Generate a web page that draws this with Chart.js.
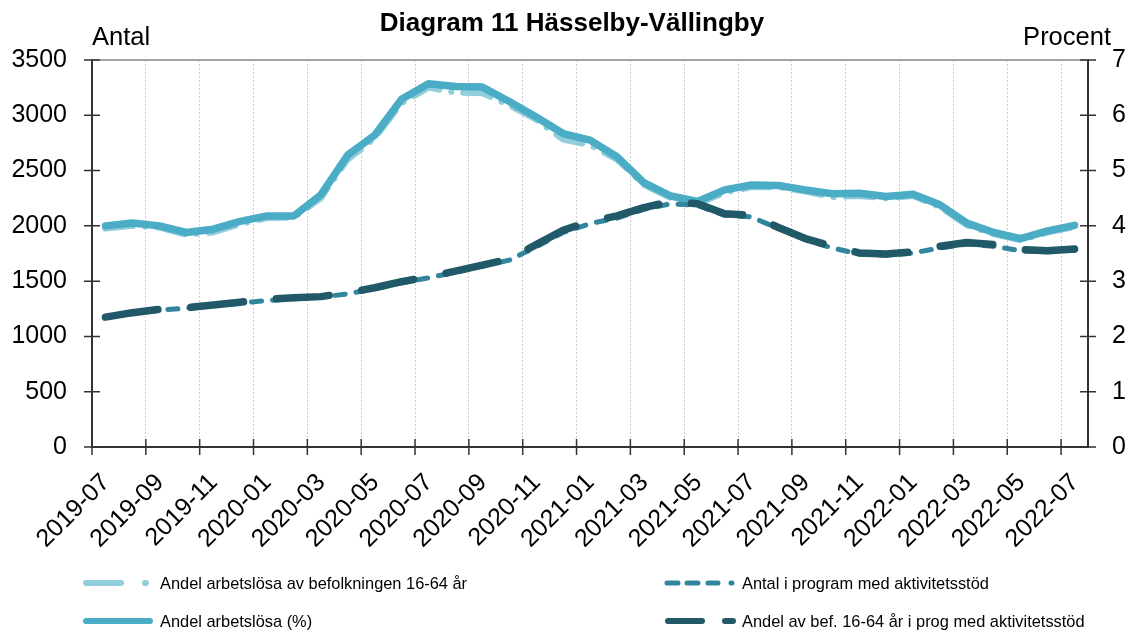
<!DOCTYPE html>
<html>
<head>
<meta charset="utf-8">
<script src="https://cdn.jsdelivr.net/npm/chart.js@4/dist/chart.umd.min.js"></script>
<style>
  html, body { margin: 0; padding: 0; background: #fff; }
</style>
</head>
<body>
<canvas id="myChart" width="1131" height="634"></canvas>
<script>
// Months (category per month, labels on the boundary ticks every second month)
var months = [
  "2019-07", "2019-08", "2019-09", "2019-10", "2019-11", "2019-12",
  "2020-01", "2020-02", "2020-03", "2020-04", "2020-05", "2020-06",
  "2020-07", "2020-08", "2020-09", "2020-10", "2020-11", "2020-12",
  "2021-01", "2021-02", "2021-03", "2021-04", "2021-05", "2021-06",
  "2021-07", "2021-08", "2021-09", "2021-10", "2021-11", "2021-12",
  "2022-01", "2022-02", "2022-03", "2022-04", "2022-05", "2022-06",
  "2022-07"
];

// Procent (right axis)
var andelBefolkning = [
  3.95, 4.00, 3.97, 3.84, 3.88, 4.03, 4.14, 4.15, 4.50, 5.20, 5.58, 6.22,
  6.50, 6.41, 6.40, 6.18, 5.92, 5.56, 5.46, 5.20, 4.74, 4.50, 4.40, 4.60,
  4.70, 4.70, 4.62, 4.52, 4.54, 4.50, 4.54, 4.34, 4.01, 3.85, 3.74, 3.88,
  3.98
];
var andelArbetslosa = [
  4.00, 4.05, 4.00, 3.88, 3.94, 4.08, 4.18, 4.18, 4.56, 5.28, 5.64, 6.29,
  6.57, 6.52, 6.51, 6.25, 5.97, 5.67, 5.55, 5.25, 4.78, 4.54, 4.44, 4.65,
  4.74, 4.73, 4.65, 4.58, 4.59, 4.53, 4.57, 4.38, 4.05, 3.88, 3.77, 3.91,
  4.01
];
var andelProgram = [
  2.35, 2.43, 2.49, 2.52, 2.57, 2.62, 2.67, 2.70, 2.72, 2.79, 2.88, 2.99,
  3.08, 3.18, 3.29, 3.40, 3.66, 3.92, 4.08, 4.18, 4.33, 4.44, 4.40, 4.22,
  4.19, 3.97, 3.77, 3.63, 3.51, 3.49, 3.53, 3.63, 3.70, 3.66, 3.57, 3.55,
  3.58
];
// Antal (left axis)
var antalProgram = [
  1170, 1205, 1238, 1255, 1280, 1300, 1325, 1340, 1355, 1385, 1430, 1485,
  1530, 1580, 1635, 1690, 1810, 1940, 2020, 2070, 2150, 2200, 2185, 2095,
  2080, 1975, 1875, 1800, 1745, 1735, 1755, 1800, 1835, 1815, 1775, 1765,
  1780
];

var leftTicks = [0, 500, 1000, 1500, 2000, 2500, 3000, 3500];
var rightTicks = [0, 1, 2, 3, 4, 5, 6, 7];

var colLight = "#92CDDC";
var colMain = "#4BACC6";
var colTeal = "#31859C";
var colDark = "#215968";

var FONT = "'Liberation Sans', Arial, sans-serif";
Chart.defaults.font.family = FONT;
Chart.defaults.color = "#000";

function points(arr) {
  // each month is drawn in the middle of its category slot
  return arr.map(function (v, i) { return { x: i + 0.5, y: v }; });
}

// legend entries
var legendItems = [
  { text: "Andel arbetslösa av befolkningen 16-64 år", color: colLight, width: 6,
    segs: [[86, 121], [145, 146]], x0: 160, y: 583 },
  { text: "Andel arbetslösa (%)", color: colMain, width: 6,
    segs: [[86, 150]], x0: 160, y: 621 },
  { text: "Antal i program med aktivitetsstöd", color: colTeal, width: 5,
    segs: [[667, 678], [687, 698], [708, 718], [731, 732]], x0: 742, y: 583 },
  { text: "Andel av bef. 16-64 år i prog med aktivitetsstöd", color: colDark, width: 6,
    segs: [[668, 702], [725, 733]], x0: 742, y: 621 }
];

var decorPlugin = {
  id: "decor",
  afterDraw: function (chart) {
    var ctx = chart.ctx;
    var a = chart.chartArea;
    var sx = chart.scales.x, sy = chart.scales.y, sy1 = chart.scales.y1;
    ctx.save();

    // top frame line
    ctx.strokeStyle = "#a6a6a6";
    ctx.lineWidth = 2;
    ctx.beginPath();
    ctx.moveTo(a.left, a.top);
    ctx.lineTo(a.right, a.top);
    ctx.stroke();

    // cross tick marks
    ctx.strokeStyle = "#333";
    ctx.lineWidth = 1.5;
    ctx.beginPath();
    leftTicks.forEach(function (v) {
      var y = sy.getPixelForValue(v);
      ctx.moveTo(a.left - 8, y); ctx.lineTo(a.left + 8, y);
    });
    rightTicks.forEach(function (v) {
      var y = sy1.getPixelForValue(v);
      ctx.moveTo(a.right - 8, y); ctx.lineTo(a.right + 8, y);
    });
    sx.ticks.forEach(function (t) {
      var x = sx.getPixelForValue(t.value);
      ctx.moveTo(x, a.bottom - 8); ctx.lineTo(x, a.bottom + 8);
    });
    ctx.stroke();

    // title + axis titles
    ctx.fillStyle = "#000";
    ctx.textBaseline = "alphabetic";
    ctx.font = "bold 26px " + FONT;
    ctx.textAlign = "center";
    ctx.fillText("Diagram 11 Hässelby-Vällingby", 572, 31);
    ctx.font = "25.5px " + FONT;
    ctx.textAlign = "left";
    ctx.fillText("Antal", 92, 45);
    ctx.textAlign = "right";
    ctx.fillText("Procent", 1111, 45);

    // legend
    ctx.lineCap = "round";
    ctx.font = "16.4px " + FONT;
    ctx.textAlign = "left";
    ctx.textBaseline = "middle";
    legendItems.forEach(function (it) {
      ctx.strokeStyle = it.color;
      ctx.lineWidth = it.width;
      ctx.beginPath();
      it.segs.forEach(function (s) {
        ctx.moveTo(s[0], it.y); ctx.lineTo(s[1], it.y);
      });
      ctx.stroke();
      ctx.fillStyle = "#000";
      ctx.fillText(it.text, it.x0, it.y + 1);
    });
    ctx.restore();
  }
};

var ctx = document.getElementById("myChart").getContext("2d");
var myChart = new Chart(ctx, {
  type: "line",
  data: {
    // first dataset is painted last (on top)
    datasets: [
      {
        label: "Andel av bef. 16-64 år i prog med aktivitetsstöd",
        data: points(andelProgram),
        yAxisID: "y1",
        borderColor: colDark,
        borderWidth: 7.5,
        borderDash: [53, 33],
        borderCapStyle: "round",
        borderJoinStyle: "round",
        pointRadius: 0,
      },
      {
        label: "Antal i program med aktivitetsstöd",
        data: points(antalProgram),
        yAxisID: "y",
        borderColor: colTeal,
        borderWidth: 5,
        borderDash: [10, 11],
        borderCapStyle: "round",
        borderJoinStyle: "round",
        pointRadius: 0,
      },
      {
        label: "Andel arbetslösa (%)",
        data: points(andelArbetslosa),
        yAxisID: "y1",
        borderColor: colMain,
        borderWidth: 7.5,
        borderCapStyle: "round",
        borderJoinStyle: "round",
        pointRadius: 0,
      },
      {
        label: "Andel arbetslösa av befolkningen 16-64 år",
        data: points(andelBefolkning),
        yAxisID: "y1",
        borderColor: colLight,
        borderWidth: 6,
        borderDash: [28, 12, 0.1, 12],
        borderCapStyle: "round",
        borderJoinStyle: "round",
        pointRadius: 0,
      },
    ],
  },
  options: {
    responsive: false,
    animation: false,
    events: [],
    layout: { autoPadding: false, padding: { top: 60, left: 0, right: 0, bottom: 0 } },
    plugins: {
      legend: { display: false },
      title: { display: false },
      tooltip: { enabled: false },
    },
    scales: {
      x: {
        type: "linear",
        min: 0,
        max: months.length,
        afterBuildTicks: function (scale) {
          scale.ticks = months
            .map(function (m, i) { return { value: i }; })
            .filter(function (t) { return t.value % 2 === 0; });
        },
        afterFit: function (scale) { scale.height = 187; },
        ticks: {
          autoSkip: false,
          minRotation: 45,
          maxRotation: 45,
          padding: 21,
          labelOffset: 14,
          font: { size: 25 },
          color: "#000",
          callback: function (v) { return months[v]; },
        },
        grid: { color: "#cccccc", lineWidth: 1, drawTicks: false },
        border: { display: true, color: "#333", width: 2, dash: [2, 2] },
      },
      y: {
        position: "left",
        min: 0,
        max: 3500,
        afterBuildTicks: function (scale) {
          scale.ticks = leftTicks.map(function (v) { return { value: v }; });
        },
        afterFit: function (scale) { scale.width = 92; },
        ticks: {
          padding: 25,
          font: { size: 25 },
          color: "#000",
          callback: function (v) { return String(v); },
        },
        grid: { display: false, drawTicks: false },
        border: { display: true, color: "#333", width: 2 },
      },
      y1: {
        position: "right",
        min: 0,
        max: 7,
        afterBuildTicks: function (scale) {
          scale.ticks = rightTicks.map(function (v) { return { value: v }; });
        },
        afterFit: function (scale) { scale.width = 43; },
        ticks: {
          padding: 24,
          font: { size: 25 },
          color: "#000",
          callback: function (v) { return String(v); },
        },
        grid: { display: false, drawTicks: false },
        border: { display: true, color: "#333", width: 2 },
      },
    },
  },
  plugins: [decorPlugin],
});
</script>
</body>
</html>
